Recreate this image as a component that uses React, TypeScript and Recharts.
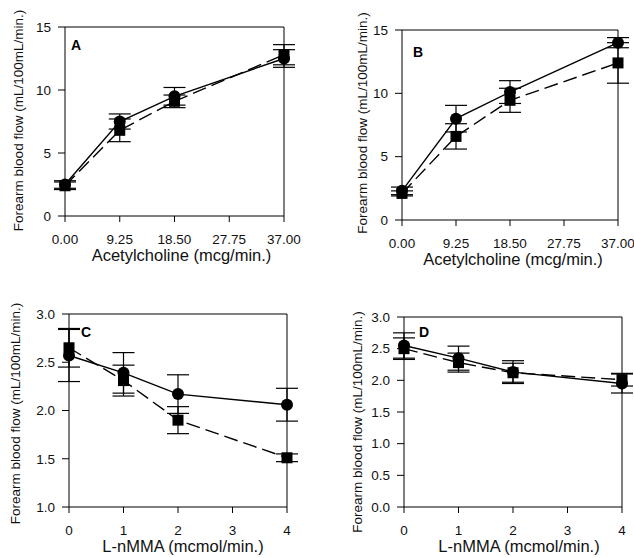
import React from "react";
import { LineChart, Line, XAxis, YAxis, ErrorBar, ReferenceLine, Label } from "recharts";

// ---- data ----
const achDose = [0, 9.25, 18.5, 37];
const achTicks = [0, 9.25, 18.5, 27.75, 37];
const lnmmaDose = [0, 1, 2, 4];
const lnmmaTicks = [0, 1, 2, 3, 4];

const aCircle = [2.5, 7.5, 9.5, 12.5];
const aCircleErr = [0.3, 0.6, 0.7, 0.7];
const aSquare = [2.4, 6.8, 9.1, 12.8];
const aSquareErr = [0.3, 0.9, 0.5, 0.8];

const bCircle = [2.3, 8.0, 10.1, 14.0];
const bCircleErr = [0.3, 1.05, 0.9, 0.4];
const bSquare = [2.1, 6.6, 9.45, 12.4];
const bSquareErr = [0.2, 1.0, 0.95, 1.6];

const cCircle = [2.57, 2.39, 2.17, 2.06];
const cCircleErr = [0.27, 0.21, 0.2, 0.17];
const cSquare = [2.65, 2.31, 1.9, 1.51];
const cSquareErr = [0.2, 0.16, 0.14, 0.04];

const dCircle = [2.55, 2.35, 2.13, 1.95];
const dCircleErr = [0.2, 0.19, 0.18, 0.15];
const dSquare = [2.5, 2.28, 2.12, 2.01];
const dSquareErr = [0.17, 0.15, 0.15, 0.1];

const abYTicks = [0, 5, 10, 15];
const cYTicks = [1.0, 1.5, 2.0, 2.5, 3.0];
const dYTicks = [0.0, 0.5, 1.0, 1.5, 2.0, 2.5, 3.0];

const yLabel = "Forearm blood flow (mL/100mL/min.)";
const achLabel = "Acetylcholine (mcg/min.)";
const lnmmaLabel = "L-nMMA (mcmol/min.)";

const FONT = "'Liberation Sans', Arial, sans-serif";

function build(x: number[], c: number[], ce: number[], s: number[], se: number[]) {
  return x.map((v, i) => ({ x: v, c: c[i], ce: ce[i], s: s[i], se: se[i] }));
}

const SquareDot = (props: any) => {
  const { cx, cy, key } = props;
  if (cx == null || cy == null) return null;
  return <rect key={key} x={cx - 5.5} y={cy - 5.5} width={11} height={11} fill="#000" />;
};

type PanelProps = {
  left: number;
  top: number;
  letter: string;
  letterPos: [number, number];
  data: any[];
  xDomain: [number, number];
  xTicks: number[];
  xFmt: (v: number) => string;
  yDomain: [number, number];
  yTicks: number[];
  yFmt: (v: number) => string;
  yAxisWidth: number;
  margin: { top: number; right: number; bottom: number; left: number };
  xLabel: string;
  yLabelDx: number;
  yLabelDy: number;
  xLabelDx: number;
};

function Panel(p: PanelProps) {
  const tickStyle = { fill: "#111", fontSize: 13.5, fontFamily: FONT };
  return (
    <div style={{ position: "absolute", left: p.left, top: p.top }}>
      <LineChart width={317} height={279} data={p.data} margin={p.margin}>
        <XAxis
          dataKey="x"
          type="number"
          domain={p.xDomain}
          ticks={p.xTicks}
          tickFormatter={p.xFmt}
          height={30}
          tickSize={6}
          tickMargin={12}
          stroke="#000"
          tick={tickStyle}
        >
          <Label
            content={(lp: any) => {
              const vb = lp.viewBox;
              return (
                <text
                  x={vb.x + vb.width / 2 + p.xLabelDx}
                  y={vb.y + 39}
                  textAnchor="middle"
                  dominantBaseline="central"
                  fontSize={16.5}
                  fontFamily={FONT}
                  fill="#111"
                >
                  {p.xLabel}
                </text>
              );
            }}
          />
        </XAxis>
        <YAxis
          type="number"
          domain={p.yDomain}
          ticks={p.yTicks}
          tickFormatter={p.yFmt}
          width={p.yAxisWidth}
          tickSize={7}
          tickMargin={7}
          stroke="#000"
          tick={tickStyle}
        >
          <Label
            content={(lp: any) => {
              const vb = lp.viewBox;
              const cx = vb.x + vb.width + p.yLabelDx;
              const cy = vb.y + vb.height / 2 + p.yLabelDy;
              return (
                <text
                  x={cx}
                  y={cy}
                  transform={`rotate(-90 ${cx} ${cy})`}
                  textAnchor="middle"
                  dominantBaseline="central"
                  fontSize={13.5}
                  fontFamily={FONT}
                  fill="#111"
                >
                  {yLabel}
                </text>
              );
            }}
          />
        </YAxis>
        <ReferenceLine y={p.yDomain[1]} stroke="#000" strokeWidth={1} />
        <ReferenceLine x={p.xDomain[1]} stroke="#000" strokeWidth={1} />
        <ReferenceLine
          x={p.xDomain[0]}
          stroke="none"
          label={(lp: any) => {
            const vb = lp.viewBox;
            return (
              <text
                x={vb.x + p.letterPos[0]}
                y={vb.y + p.letterPos[1]}
                fontSize={14}
                fontWeight="bold"
                fontFamily={FONT}
                fill="#000"
                dominantBaseline="central"
              >
                {p.letter}
              </text>
            );
          }}
        />
        <Line
          dataKey="s"
          stroke="#000"
          strokeWidth={1.4}
          strokeDasharray="14 6"
          dot={SquareDot}
          isAnimationActive={false}
        >
          <ErrorBar dataKey="se" direction="y" width={11} stroke="#000" strokeWidth={1.2} />
        </Line>
        <Line
          dataKey="c"
          stroke="#000"
          strokeWidth={1.4}
          dot={{ r: 6, fill: "#000", stroke: "#000", strokeWidth: 0 }}
          isAnimationActive={false}
        >
          <ErrorBar dataKey="ce" direction="y" width={11} stroke="#000" strokeWidth={1.2} />
        </Line>
      </LineChart>
    </div>
  );
}

const fmt2 = (v: number) => v.toFixed(2);
const fmt1 = (v: number) => v.toFixed(1);
const fmt0 = (v: number) => String(v);

export default function App() {
  return (
    <div
      style={{
        position: "absolute",
        left: 0,
        top: 0,
        width: 634,
        height: 558,
        background: "#fff",
        overflow: "hidden",
      }}
    >
      <Panel
        left={0}
        top={0}
        letter="A"
        letterPos={[6, 18]}
        data={build(achDose, aCircle, aCircleErr, aSquare, aSquareErr)}
        xDomain={[0, 37]}
        xTicks={achTicks}
        xFmt={fmt2}
        yDomain={[0, 15]}
        yTicks={abYTicks}
        yFmt={fmt0}
        yAxisWidth={65}
        margin={{ top: 27, right: 33, bottom: 33, left: 0 }}
        xLabel={achLabel}
        yLabelDx={-47}
        yLabelDy={-1}
        xLabelDx={7}
      />
      <Panel
        left={317}
        top={0}
        letter="B"
        letterPos={[11, 22]}
        data={build(achDose, bCircle, bCircleErr, bSquare, bSquareErr)}
        xDomain={[0, 37]}
        xTicks={achTicks}
        xFmt={fmt2}
        yDomain={[0, 15]}
        yTicks={abYTicks}
        yFmt={fmt0}
        yAxisWidth={85}
        margin={{ top: 30, right: 16, bottom: 29, left: 0 }}
        xLabel={achLabel}
        yLabelDx={-40}
        yLabelDy={-2}
        xLabelDx={3}
      />
      <Panel
        left={0}
        top={279}
        letter="C"
        letterPos={[12, 18]}
        data={build(lnmmaDose, cCircle, cCircleErr, cSquare, cSquareErr)}
        xDomain={[0, 4]}
        xTicks={lnmmaTicks}
        xFmt={fmt0}
        yDomain={[1, 3]}
        yTicks={cYTicks}
        yFmt={fmt1}
        yAxisWidth={69}
        margin={{ top: 35, right: 30, bottom: 21, left: 0 }}
        xLabel={lnmmaLabel}
        yLabelDx={-54}
        yLabelDy={3}
        xLabelDx={5}
      />
      <Panel
        left={317}
        top={279}
        letter="D"
        letterPos={[15, 15]}
        data={build(lnmmaDose, dCircle, dCircleErr, dSquare, dSquareErr)}
        xDomain={[0, 4]}
        xTicks={lnmmaTicks}
        xFmt={fmt0}
        yDomain={[0, 3]}
        yTicks={dYTicks}
        yFmt={fmt1}
        yAxisWidth={87}
        margin={{ top: 38, right: 12, bottom: 21, left: 0 }}
        xLabel={lnmmaLabel}
        yLabelDx={-47}
        yLabelDy={10}
        xLabelDx={6}
      />
    </div>
  );
}
